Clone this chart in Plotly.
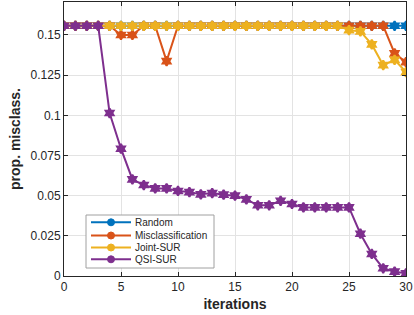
import plotly.graph_objects as go

iterations = list(range(31))
top = 0.1557
random_vals = [top] * 31
misclass_vals = [top, top, top, top, top, 0.150, 0.150, top, top, 0.1337,
                 top, top, top, top, top, top, top, top, top, top,
                 top, top, top, top, top, top, top, top, top, 0.1385, 0.1331]
joint_vals = [top] * 25 + [0.1530, 0.1522, 0.1441, 0.1312, 0.1345, 0.1269]
qsi_vals = [top, top, top, top, 0.1014, 0.0792, 0.0601, 0.0566, 0.0545, 0.0545,
            0.0529, 0.0522, 0.0508, 0.0516, 0.0506, 0.0500, 0.0477, 0.0440, 0.0440, 0.0468,
            0.0448, 0.0427, 0.0427, 0.0427, 0.0427, 0.0427, 0.0263, 0.0137, 0.0048, 0.0027, 0.0017]

names = ["Random", "Misclassification", "Joint-SUR", "QSI-SUR"]
colors = ["#0072BD", "#D95319", "#EDB120", "#7E2F8E"]
values = [random_vals, misclass_vals, joint_vals, qsi_vals]

W, H = 414, 315
ML, MR, MT, MB = 64, 8, 2, 39
PW, PH = W - ML - MR, H - MT - MB


def px(x):
    return (x - ML) / PW


def py(y):
    return (H - MB - y) / PH


fig = go.Figure()
for name, vals, col in zip(names, values, colors):
    fig.add_trace(go.Scatter(
        x=iterations, y=vals, name=name, mode="lines+markers",
        line=dict(color=col, width=2),
        marker=dict(symbol="hexagram", size=7, color=col, line=dict(color=col, width=2)),
        showlegend=False,
    ))

axis_common = dict(
    showline=True, linecolor="#262626", linewidth=1, mirror="allticks",
    ticks="inside", ticklen=4, tickcolor="#262626",
    showgrid=True, gridcolor="#e3e3e3", gridwidth=1, zeroline=False,
    tickfont=dict(family="Liberation Sans, Arial", size=12, color="#262626"),
)

# manual compact legend (MATLAB style)
shapes = [dict(type="rect", xref="paper", yref="paper",
               x0=px(86), x1=px(214), y0=py(268), y1=py(215),
               fillcolor="white", line=dict(color="#a0a0a0", width=1), layer="above")]
annotations = []
row_y = [222.3, 235.5, 247.5, 259.3]
for name, col, ry in zip(names, colors, row_y):
    shapes.append(dict(type="line", xref="paper", yref="paper",
                       x0=px(91), x1=px(131), y0=py(ry), y1=py(ry),
                       line=dict(color=col, width=2), layer="above"))
    shapes.append(dict(type="circle", xref="paper", yref="paper",
                       x0=px(107.5), x1=px(114.5), y0=py(ry + 3.5), y1=py(ry - 3.5),
                       fillcolor=col, line=dict(color=col, width=1), layer="above"))
    annotations.append(dict(text=name, xref="paper", yref="paper",
                            x=px(133), y=py(ry), xanchor="left", yanchor="middle",
                            showarrow=False,
                            font=dict(family="Liberation Sans, Arial", size=10, color="#262626")))

fig.update_layout(
    width=W, height=H,
    margin=dict(l=ML, r=MR, t=MT, b=MB),
    plot_bgcolor="white", paper_bgcolor="white",
    xaxis=dict(range=[0, 30], tickvals=[0, 5, 10, 15, 20, 25, 30],
               title=dict(text="<b>iterations</b>", standoff=5,
                          font=dict(family="Liberation Sans, Arial", size=14, color="#262626")),
               **axis_common),
    yaxis=dict(range=[0, 0.1705], tickvals=[0, 0.025, 0.05, 0.075, 0.1, 0.125, 0.15],
               ticktext=["0", "0.025", "0.05", "0.075", "0.1", "0.125", "0.15"],
               title=dict(text="<b>prop. misclass.</b>", standoff=6,
                          font=dict(family="Liberation Sans, Arial", size=14, color="#262626")),
               **axis_common),
    shapes=shapes, annotations=annotations,
    showlegend=False,
)

fig.write_html("out.html", config={"displayModeBar": False},
               post_script="document.body.style.margin='0';")
